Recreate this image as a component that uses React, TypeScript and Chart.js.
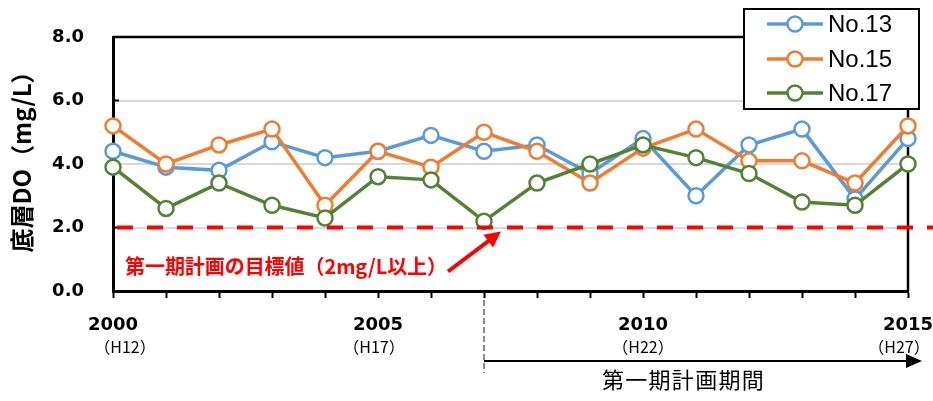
import React, { useEffect, useRef } from 'react';
import { Chart, registerables } from 'chart.js';

Chart.register(...registerables);

const years = ['2000','2001','2002','2003','2004','2005','2006','2007','2008','2009','2010','2011','2012','2013','2014','2015'];
const no13 = [4.4, 3.9, 3.8, 4.7, 4.2, 4.4, 4.9, 4.4, 4.6, 3.7, 4.8, 3.0, 4.6, 5.1, 2.9, 4.8];
const no15 = [5.2, 4.0, 4.6, 5.1, 2.7, 4.4, 3.9, 5.0, 4.4, 3.4, 4.5, 5.1, 4.1, 4.1, 3.4, 5.2];
const no17 = [3.9, 2.6, 3.4, 2.7, 2.3, 3.6, 3.5, 2.2, 3.4, 4.0, 4.6, 4.2, 3.7, 2.8, 2.7, 4.0];
const seriesNames = ['No.13', 'No.15', 'No.17'];
const seriesColors = ['#5B9BD5', '#ED7D31', '#548235'];
const eraLabels = ['（H12）', '（H17）', '（H22）', '（H27）'];
const eraYears = ['2000', '2005', '2010', '2015'];
const eraShift = [12, -4, 0, -9];
const targetValue = 2.0;
const targetText = '第一期計画の目標値（2mg/L以上）';
const periodStart = '2007';
const periodText = '第一期計画期間';
const yTitle = '底層DO（mg/L）';

const JP = '"Noto Sans CJK JP", "Noto Sans", sans-serif';

function arrow(ctx: CanvasRenderingContext2D, x1: number, y1: number, x2: number, y2: number, color: string, lw: number, hl: number, hw: number) {
  const ang = Math.atan2(y2 - y1, x2 - x1);
  const bx = x2 - hl * Math.cos(ang);
  const by = y2 - hl * Math.sin(ang);
  ctx.save();
  ctx.strokeStyle = color;
  ctx.fillStyle = color;
  ctx.lineWidth = lw;
  ctx.beginPath();
  ctx.moveTo(x1, y1);
  ctx.lineTo(bx + Math.cos(ang), by + Math.sin(ang));
  ctx.stroke();
  ctx.beginPath();
  ctx.moveTo(x2, y2);
  ctx.lineTo(bx + hw * Math.sin(ang), by - hw * Math.cos(ang));
  ctx.lineTo(bx - hw * Math.sin(ang), by + hw * Math.cos(ang));
  ctx.closePath();
  ctx.fill();
  ctx.restore();
}

const decor = {
  id: 'decor',
  beforeDatasetsDraw(chart: any) {
    const { ctx, chartArea: a } = chart;
    const ys = chart.scales.y;
    ctx.save();
    ctx.strokeStyle = '#000';
    ctx.lineWidth = 2.5;
    ctx.beginPath();
    ctx.moveTo(a.left, a.top);
    ctx.lineTo(a.right, a.top);
    ctx.lineTo(a.right, a.bottom);
    ctx.stroke();
    ctx.lineWidth = 2;
    ys.ticks.forEach((t: any) => {
      const py = ys.getPixelForValue(t.value);
      ctx.beginPath();
      ctx.moveTo(a.left, py);
      ctx.lineTo(a.left + 6, py);
      ctx.stroke();
    });
    ctx.restore();
  },
  afterDatasetsDraw(chart: any) {
    const { ctx, chartArea: a, width } = chart;
    const ys = chart.scales.y;
    const xs = chart.scales.x;
    const ty = ys.getPixelForValue(targetValue);
    ctx.save();
    ctx.strokeStyle = '#FF0000';
    ctx.lineWidth = 4;
    ctx.setLineDash([16, 14]);
    ctx.beginPath();
    ctx.moveTo(a.left + 4, ty);
    ctx.lineTo(width, ty);
    ctx.stroke();
    ctx.setLineDash([]);
    ctx.restore();

    // red annotation text
    ctx.save();
    ctx.fillStyle = '#FF0000';
    ctx.font = 'bold 20px ' + JP;
    ctx.textBaseline = 'middle';
    ctx.textAlign = 'left';
    const w = ctx.measureText(targetText).width;
    const target = 322;
    const n = Array.from(targetText).length;
    (ctx as any).letterSpacing = ((target - w) / n).toFixed(2) + 'px';
    ctx.fillText(targetText, a.left + 12, ty + 39);
    ctx.restore();

    const px = xs.getPixelForValue(years.indexOf(periodStart));
    arrow(ctx, a.left + 335, ty + 44, px + 17, ty + 4, '#FF0000', 4, 16, 8);
  },
  afterDraw(chart: any) {
    const { ctx, chartArea: a } = chart;
    const xs = chart.scales.x;
    // era labels
    ctx.save();
    ctx.fillStyle = '#000';
    ctx.font = '16px ' + JP;
    ctx.textAlign = 'center';
    ctx.textBaseline = 'middle';
    eraYears.forEach((yr, i) => {
      const px = xs.getPixelForValue(years.indexOf(yr));
      ctx.fillText(eraLabels[i], px + eraShift[i], a.bottom + 56);
    });
    ctx.restore();

    // period marker
    const ps = xs.getPixelForValue(years.indexOf(periodStart));
    ctx.save();
    ctx.strokeStyle = '#404040';
    ctx.lineWidth = 1.2;
    ctx.setLineDash([6, 3]);
    ctx.beginPath();
    ctx.moveTo(ps, a.bottom + 9);
    ctx.lineTo(ps, a.bottom + 82);
    ctx.stroke();
    ctx.restore();
    arrow(ctx, ps, a.bottom + 70, a.right + 14, a.bottom + 70, '#000', 2, 16, 7);
    ctx.save();
    ctx.fillStyle = '#000';
    ctx.font = '22px ' + JP;
    ctx.textAlign = 'left';
    ctx.textBaseline = 'middle';
    const w = ctx.measureText(periodText).width;
    (ctx as any).letterSpacing = ((163 - w) / 7).toFixed(2) + 'px';
    ctx.fillText(periodText, ps + 118, a.bottom + 89);
    ctx.restore();

    // y title
    ctx.save();
    ctx.translate(22, (a.top + a.bottom) / 2 - 8);
    ctx.rotate(-Math.PI / 2);
    ctx.fillStyle = '#000';
    ctx.font = 'bold 24px ' + JP;
    ctx.textAlign = 'center';
    ctx.textBaseline = 'middle';
    ctx.fillText(yTitle, 0, 0);
    ctx.restore();

    // legend
    const lx = 744, ly = 9, lw = 175, lh = 100;
    ctx.save();
    ctx.fillStyle = '#fff';
    ctx.fillRect(lx, ly, lw, lh);
    ctx.strokeStyle = '#000';
    ctx.lineWidth = 2;
    ctx.strokeRect(lx, ly, lw, lh);
    const rows = [24, 59, 93];
    seriesNames.forEach((name, i) => {
      const cy = rows[i];
      ctx.strokeStyle = seriesColors[i];
      ctx.lineWidth = 3.5;
      ctx.beginPath();
      ctx.moveTo(767, cy);
      ctx.lineTo(823, cy);
      ctx.stroke();
      ctx.beginPath();
      ctx.arc(795, cy, 7.5, 0, Math.PI * 2);
      ctx.fillStyle = '#fff';
      ctx.fill();
      ctx.lineWidth = 2.5;
      ctx.stroke();
      ctx.fillStyle = '#000';
      ctx.font = '24px "Liberation Sans", Arial, sans-serif';
      ctx.textAlign = 'left';
      ctx.textBaseline = 'middle';
      ctx.fillText(name, 828, cy + 1);
    });
    ctx.restore();
  },
};

export default function App() {
  const ref = useRef<HTMLCanvasElement>(null);
  useEffect(() => {
    const data = [no13, no15, no17];
    const chart = new Chart(ref.current as HTMLCanvasElement, {
      type: 'line',
      data: {
        labels: years,
        datasets: data.map((vals, i) => ({
          label: seriesNames[i],
          data: vals,
          borderColor: seriesColors[i],
          backgroundColor: '#fff',
          pointBackgroundColor: '#fff',
          pointBorderColor: seriesColors[i],
          pointRadius: 7.5,
          pointBorderWidth: 2.5,
          borderWidth: 3.5,
          tension: 0,
          clip: false as any,
          order: 3 - i,
        })),
      },
      options: {
        animation: false,
        responsive: false,
        devicePixelRatio: 1,
        events: [],
        layout: { autoPadding: false, padding: { left: 0, right: 25, top: 37, bottom: 0 } } as any,
        plugins: { legend: { display: false }, tooltip: { enabled: false } },
        scales: {
          x: {
            type: 'category',
            offset: false,
            grid: { drawOnChartArea: false, drawTicks: true, tickLength: 7, tickColor: '#000', tickWidth: 2 } as any,
            border: { color: '#000', width: 3 },
            ticks: {
              autoSkip: false,
              maxRotation: 0,
              padding: 17,
              color: '#000',
              font: { family: '"DejaVu Sans", sans-serif', weight: 'bold', size: 18 },
              callback: (_v: any, i: number) => (i % 5 === 0 ? years[i] : ''),
            },
            afterFit: (s: any) => { s.height = 110; s.paddingLeft = 0; s.paddingRight = 0; },
          },
          y: {
            min: 0,
            max: 8,
            grid: { color: '#d9d9d9', lineWidth: 2, drawTicks: false },
            border: { color: '#000', width: 3 },
            ticks: {
              stepSize: 2,
              padding: 29,
              color: '#000',
              font: { family: '"DejaVu Sans", sans-serif', weight: 'bold', size: 18 },
              callback: (v: any) => Number(v).toFixed(1),
            },
            afterFit: (s: any) => { s.width = 113; s.paddingTop = 0; s.paddingBottom = 0; },
          },
        },
      },
      plugins: [decor],
    });
    return () => chart.destroy();
  }, []);
  return (
    <div style={{ position: 'fixed', left: 0, top: 0, width: 933, height: 401, background: '#fff' }}>
      <canvas ref={ref} width={933} height={401} style={{ display: 'block' }} />
    </div>
  );
}
